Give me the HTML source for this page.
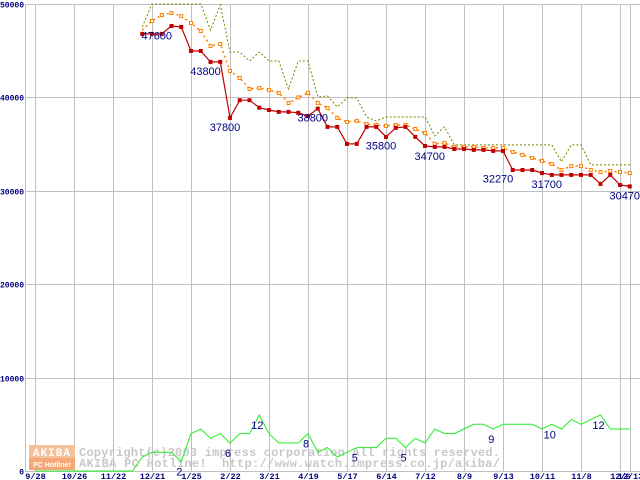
<!DOCTYPE html>
<html><head><meta charset="utf-8"><style>
html,body{margin:0;padding:0;background:#fff;}
svg{display:block;}
</style></head><body>
<svg id="chart" width="640" height="480" xmlns="http://www.w3.org/2000/svg" font-family="Liberation Sans, sans-serif">
<g id="grid"></g>
<g id="wm">
  <rect x="29" y="445" width="46" height="13" fill="#f6c09a"/>
  <text x="52" y="456" text-anchor="middle" font-size="11" font-weight="bold" fill="#fff" font-family="Liberation Mono, monospace" letter-spacing="1">AKIBA</text>
  <rect x="29" y="458" width="46" height="12" fill="#f4a878"/>
  <text x="52" y="467" text-anchor="middle" font-size="7" font-weight="bold" fill="#fff">PC Hotline!</text>
  <text x="79" y="456" font-size="12" font-weight="bold" fill="#c8c8c8" font-family="Liberation Mono, monospace" xml:space="preserve" textLength="421" lengthAdjust="spacing">Copyright(c)2003 impress corporation All rights reserved.</text>
  <text x="79" y="467" font-size="12" font-weight="bold" fill="#c8c8c8" font-family="Liberation Mono, monospace" xml:space="preserve" textLength="421" lengthAdjust="spacing">AKIBA PC Hotline!  http://www.watch.impress.co.jp/akiba/</text>
</g>
<g id="series"></g>
<g id="labels"></g>
</svg>
<script>
const yTicks = [0, 10000, 20000, 30000, 40000, 50000];
const xTickLabels = ["9/28","10/26","11/22","12/21","1/25","2/22","3/21","4/19","5/17","6/14","7/12","8/9","9/13","10/11","11/8","12/6","12/13"];
const xTickIdx = [0,4,8,12,16,20,24,28,32,36,40,44,48,52,56,60,61];
const startIdx = 11;
const minPrice = [46800,46800,46800,47650,47540,44970,44970,43800,43800,37800,39700,39700,38900,38650,38450,38450,38350,38000,38800,36840,36840,35020,35020,36840,36840,35770,36740,36840,35770,34800,34700,34700,34480,34480,34380,34380,34270,34270,32230,32230,32230,31900,31700,31700,31700,31700,31700,30740,31700,30630,30470];
const avgPrice = [47200,48180,48820,49040,48700,47970,47110,45500,45720,42830,42080,40900,41000,40800,40480,39400,40000,40480,39400,38870,37800,37370,37480,37160,37050,36950,37050,37050,36620,36190,35020,35130,34700,34700,34700,34590,34590,34590,34160,33840,33520,33200,32860,32230,32650,32650,32230,32010,32120,32010,31900];
const maxPrice = [47540,50000,50000,50000,50000,50000,50000,47200,49900,44860,44860,43900,44860,43900,43900,40900,43900,43900,40050,40150,38980,39950,39950,37900,37480,37900,37900,37900,37900,37900,35880,36840,34910,34910,34910,34910,34910,34910,34910,34910,34910,34910,34910,33100,34910,34910,32770,32770,32770,32770,32770];
const shopCount = [0,0,0,0,0,0,0,0,0,0,0,3,4,4,4,2,8,9,7,8,6,8,8,12,8,6,6,6,8,4,5,3,4,5,5,5,7,7,5,7,6,9,8,8,9,10,10,9,10,10,10,10,9,10,9,11,10,11,12,9,9,9];
const priceLabels = ["47600","43800","37800","38800","35800","34700","32270","31700","30470"];
const priceLabelIdx = [13,18,20,29,36,41,48,53,61];
const priceLabelVal = [47600,43800,37800,38800,35800,34700,32270,31700,30470];
const countLabels = ["2","6","12","8","5","5","9","10","12"];
const countLabelIdx = [15,20,23,28,33,38,47,53,58];
const countLabelVal = [2,6,12,8,5,5,9,10,12];

const NS = "http://www.w3.org/2000/svg";
const X0 = 35, DX = 9.75, Y0 = 471, Y1 = 4, VMAX = 50000, COUNT_UNIT = 500;
function xs(i){ return X0 + i*DX; }
function ys(v){ return Y0 - v*(Y0-Y1)/VMAX; }
function mk(tag, attrs, parent){ const e=document.createElementNS(NS,tag); for(const k in attrs) e.setAttribute(k,attrs[k]); parent.appendChild(e); return e; }

const grid = document.getElementById('grid');
const series = document.getElementById('series');
const labels = document.getElementById('labels');

let ax = mk('line',{x1:25.5,y1:Y1,x2:25.5,y2:Y0,stroke:'#c0c0c0','stroke-width':1},grid);


yTicks.forEach(v=>{
  const y = Math.round(ys(v))+0.5;
  const l = mk('line',{x1:25,y1:y,x2:640,y2:y,stroke:'#c0c0c0','stroke-width':1},grid);
  
  
  const t = mk('text',{x:24,y:y+3,'text-anchor':'end','font-size':8,'font-weight':'bold',fill:'#000080','font-family':'Liberation Mono, monospace'},grid);
  t.textContent = String(v);
  
  
});
xTickIdx.forEach((i,k)=>{
  const x = Math.round(xs(i))+0.5;
  const l = mk('line',{x1:x,y1:Y1,x2:x,y2:Y0,stroke:'#c0c0c0','stroke-width':1},grid);
  
  
  const t = mk('text',{x:x,y:479,'text-anchor':'middle','font-size':8.5,'font-weight':'bold',fill:'#000080','font-family':'Liberation Mono, monospace'},grid);
  t.textContent = xTickLabels[k];
  
  
});

function pts(arr, off, f){ return arr.map((v,j)=>xs(j+off).toFixed(1)+','+f(v).toFixed(1)).join(' '); }

let g = mk('polyline',{points:pts(shopCount,0,c=>ys(c*COUNT_UNIT)),fill:'none',stroke:'#22ee22','stroke-width':1},series);



let mx = mk('polyline',{points:pts(maxPrice,startIdx,ys),fill:'none',stroke:'#808000','stroke-width':1,'stroke-dasharray':'2,2'},series);



let av = mk('polyline',{points:pts(avgPrice,startIdx,ys),fill:'none',stroke:'#ff8000','stroke-width':1.5,'stroke-dasharray':'2,3'},series);


avgPrice.forEach((v,j)=>{
  if(j===0) return;
  const r = mk('rect',{x:xs(j+startIdx)-1.5,y:ys(v)-1.5,width:3,height:3,fill:'#fff',stroke:'#ff8000','stroke-width':1},series);
  
  
});

let mn = mk('polyline',{points:pts(minPrice,startIdx,ys),fill:'none',stroke:'#c00000','stroke-width':1.2},series);


minPrice.forEach((v,j)=>{
  const r = mk('rect',{x:xs(j+startIdx)-2,y:ys(v)-2,width:4,height:4,fill:'#c00000'},series);
  
  
});

priceLabels.forEach((s,k)=>{
  const t = mk('text',{x:xs(priceLabelIdx[k])-5,y:ys(priceLabelVal[k])+13,'text-anchor':'middle','font-size':11,fill:'#000080'},labels);
  t.textContent = s;
  
  
});
countLabels.forEach((s,k)=>{
  const t = mk('text',{x:xs(countLabelIdx[k])-2,y:ys(countLabelVal[k]*COUNT_UNIT)+14,'text-anchor':'middle','font-size':11,fill:'#000080'},labels);
  t.textContent = s;
  
  
});
</script>
</body></html>
